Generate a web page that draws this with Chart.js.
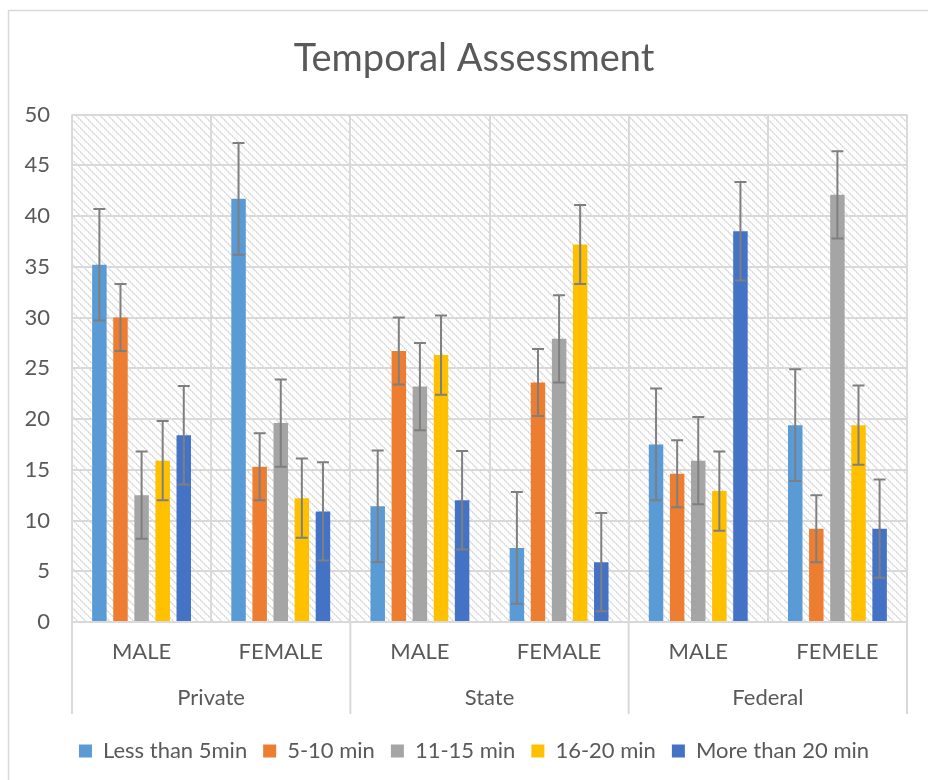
<!DOCTYPE html>
<html>
<head>
<meta charset="utf-8">
<script src="https://cdn.jsdelivr.net/npm/chart.js@4.4.1/dist/chart.umd.min.js"></script>
<style>
  html, body { margin: 0; padding: 0; background: #ffffff; }
  canvas { display: block; }
</style>
</head>
<body>
<canvas id="chart" width="928" height="780"></canvas>
<script>
// ---- Data ----
const categories = ['MALE', 'FEMALE', 'MALE', 'FEMALE', 'MALE', 'FEMELE'];
const groups = ['Private', 'State', 'Federal'];
const seriesNames = ['Less than 5min', '5-10 min', '11-15 min', '16-20 min', 'More than 20 min'];

const lessThan5 = [35.2, 41.7, 11.4, 7.3, 17.5, 19.4];
const min5to10 = [30.0, 15.3, 26.7, 23.6, 14.6, 9.2];
const min11to15 = [12.5, 19.6, 23.2, 27.9, 15.9, 42.1];
const min16to20 = [15.9, 12.2, 26.3, 37.2, 12.9, 19.4];
const moreThan20 = [18.4, 10.9, 12.0, 5.9, 38.5, 9.2];

const errLessThan5 = [5.5, 5.5, 5.5, 5.5, 5.5, 5.5];
const err5to10 = [3.3, 3.3, 3.3, 3.3, 3.3, 3.3];
const err11to15 = [4.3, 4.3, 4.3, 4.3, 4.3, 4.3];
const err16to20 = [3.9, 3.9, 3.9, 3.9, 3.9, 3.9];
const errMoreThan20 = [4.85, 4.85, 4.85, 4.85, 4.85, 4.85];

const yTicks = [0, 5, 10, 15, 20, 25, 30, 35, 40, 45, 50];

// ---- Styles ----
const colors = ['#5B9BD5', '#ED7D31', '#A5A5A5', '#FFC000', '#4472C4'];
const textColor = '#595959';
const gridColor = '#d9d9d9';
const FONT = 'Lato, "Noto Sans", sans-serif';

const seriesValues = [lessThan5, min5to10, min11to15, min16to20, moreThan20];
const seriesErrors = [errLessThan5, err5to10, err11to15, err16to20, errMoreThan20];

// hatch pattern for plot area
function makeHatch() {
  const c = document.createElement('canvas');
  c.width = 8; c.height = 8;
  const g = c.getContext('2d');
  g.fillStyle = '#ffffff';
  g.fillRect(0, 0, 8, 8);
  for (let i = 0; i < 8; i++) {
    g.fillStyle = (i % 2 === 0) ? '#d6d6d6' : '#e4e4e4';
    g.fillRect(i, i, 1, 1);
    g.fillStyle = (i % 2 === 0) ? '#ececec' : '#dcdcdc';
    g.fillRect((i + 1) % 8, i, 1, 1);
  }
  return c;
}

const bgPlugin = {
  id: 'bgPlugin',
  afterLayout(chart) {
    // let y tick labels extend left of the layout padding without being clipped
    chart.scales.y.left = 0;
  },
  beforeDraw(chart) {
    const ctx = chart.ctx;
    const a = chart.chartArea;
    ctx.save();
    // outer chart border
    ctx.strokeStyle = gridColor;
    ctx.lineWidth = 1.5;
    ctx.strokeRect(8.5, 10.5, 1000, 1000);
    // hatched plot area
    const pat = ctx.createPattern(makeHatch(), 'repeat');
    ctx.fillStyle = pat;
    ctx.fillRect(a.left, a.top, a.right - a.left, a.bottom - a.top);
    ctx.restore();
  }
};

const separatorPlugin = {
  id: 'separatorPlugin',
  afterDraw(chart) {
    const x = chart.scales.x;
    const ctx = chart.ctx;
    const bounds = [x.left,
      (x.getPixelForValue(1) + x.getPixelForValue(2)) / 2,
      (x.getPixelForValue(3) + x.getPixelForValue(4)) / 2,
      x.right];
    ctx.save();
    ctx.strokeStyle = gridColor;
    ctx.lineWidth = 2;
    const yEnd = x.bottom + 40;
    bounds.forEach(b => {
      ctx.beginPath();
      ctx.moveTo(b, chart.chartArea.bottom);
      ctx.lineTo(b, yEnd);
      ctx.stroke();
    });
    ctx.restore();
  }
};

const errorBarPlugin = {
  id: 'errorBarPlugin',
  afterDatasetsDraw(chart) {
    const ctx = chart.ctx;
    const y = chart.scales.y;
    ctx.save();
    ctx.strokeStyle = '#7f7f7f';
    ctx.lineWidth = 2;
    chart.data.datasets.forEach((ds, i) => {
      const meta = chart.getDatasetMeta(i);
      meta.data.forEach((bar, j) => {
        const v = ds.data[j];
        const e = seriesErrors[i][j];
        const yTop = y.getPixelForValue(v + e);
        const yBot = y.getPixelForValue(Math.max(0, v - e));
        const cx = bar.x;
        const cap = 6;
        ctx.beginPath();
        ctx.moveTo(cx, yTop); ctx.lineTo(cx, yBot);
        ctx.moveTo(cx - cap, yTop); ctx.lineTo(cx + cap, yTop);
        ctx.moveTo(cx - cap, yBot); ctx.lineTo(cx + cap, yBot);
        ctx.stroke();
      });
    });
    ctx.restore();
  }
};

new Chart(document.getElementById('chart'), {
  type: 'bar',
  data: {
    labels: categories,
    datasets: seriesNames.map((name, i) => ({
      label: name,
      data: seriesValues[i],
      backgroundColor: colors[i],
      borderWidth: 0,
      categoryPercentage: 0.758,
      barPercentage: 0.687
    }))
  },
  options: {
    responsive: false,
    animation: false,
    devicePixelRatio: 1,
    layout: { padding: { left: 41, right: 21, top: 0, bottom: 8 } },
    plugins: {
      title: {
        display: true,
        text: 'Temporal Assessment',
        color: textColor,
        font: { family: FONT, size: 38, weight: 'normal' },
        padding: { top: 36, bottom: 33 }
      },
      legend: {
        display: true,
        position: 'bottom',
        labels: {
          color: textColor,
          font: { family: FONT, size: 22 },
          boxWidth: 13,
          boxHeight: 13,
          padding: 16
        }
      },
      tooltip: { enabled: false }
    },
    scales: {
      y: {
        min: 0,
        max: 50,
        afterBuildTicks(scale) { scale.ticks = yTicks.map(v => ({ value: v })); },
        afterFit(scale) { scale.width = 31; },
        grid: { color: gridColor, lineWidth: 2, drawTicks: false },
        border: { display: false },
        ticks: {
          color: textColor,
          font: { family: FONT, size: 22 },
          padding: 22
        }
      },
      x: {
        offset: true,
        afterFit(scale) { scale.height = 52; },
        grid: { color: gridColor, lineWidth: 2, offset: true, drawTicks: false },
        border: { display: false },
        ticks: {
          color: textColor,
          font: { family: FONT, size: 22 },
          padding: 17,
          maxRotation: 0
        }
      },
      x2: {
        type: 'category',
        labels: groups,
        position: 'bottom',
        offset: true,
        afterFit(scale) { scale.height = 50; },
        grid: { display: false, drawTicks: false },
        border: { display: false },
        ticks: {
          color: textColor,
          font: { family: FONT, size: 22 },
          padding: 11,
          maxRotation: 0
        }
      }
    }
  },
  plugins: [bgPlugin, separatorPlugin, errorBarPlugin]
});
</script>
</body>
</html>
